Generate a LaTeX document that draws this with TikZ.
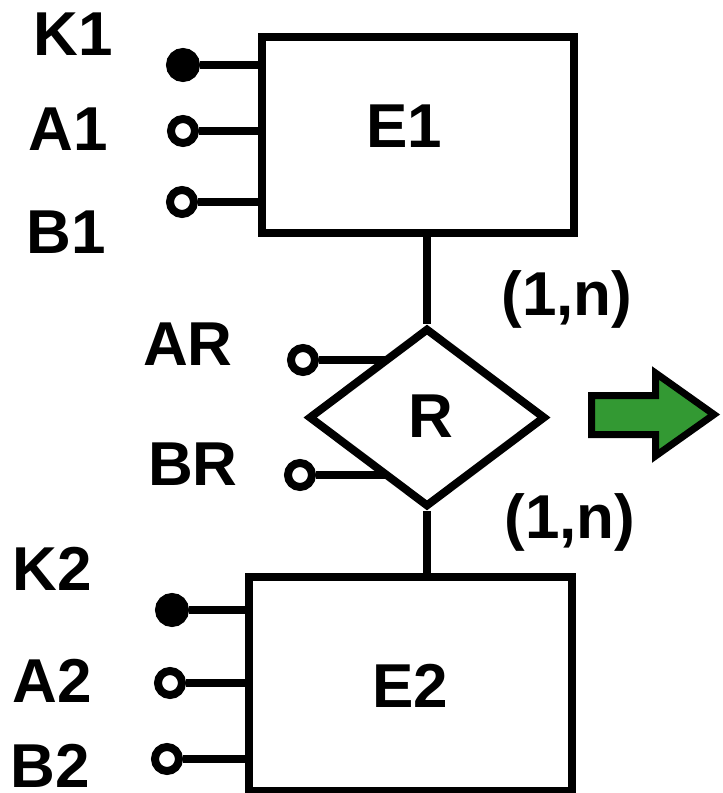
\documentclass[tikz,border=0pt]{standalone}
\usepackage{fontspec}
\setmainfont{Liberation Sans}
\usetikzlibrary{shapes.geometric,backgrounds}
\definecolor{verdeflecha}{RGB}{51,153,51}

\begin{document}
\begin{tikzpicture}[
  x=1pt, y=-1pt,
  line width=8pt,
  every node/.style={font=\fontsize{62}{70}\selectfont\bfseries},
  entidad/.style={draw, rectangle, inner sep=0pt},
  relacion/.style={draw, diamond, fill=white, inner sep=0pt,
    minimum width=237pt, minimum height=179pt},
  atributo/.style={draw, circle, fill=white, inner sep=0pt, minimum size=24pt},
  clave/.style={atributo, fill=black, minimum size=26pt},
  etiqueta/.style={anchor=base, inner sep=0pt}
]

  \useasboundingbox (0,0) rectangle (723,793);

  % Entidades
  \node[entidad, minimum width=312pt, minimum height=196pt]
    (E1) at (418,135) {};
  \node[entidad, minimum width=323pt, minimum height=214pt]
    (E2) at (410.5,684) {};

  \node[etiqueta] (tE1) at (404.5,147) {E1};
  \node[etiqueta] (tE2) at (410.5,707) {E2};

  % Relación
  \node[relacion] (R) at (427,417.5) {};
  \node[etiqueta] (tR) at (431,437) {R};

  % Atributos
  \node[clave]    (K1c) at (183,65) {};
  \node[atributo] (A1c) at (183,131) {};
  \node[atributo] (B1c) at (182,202) {};
  \node[atributo] (ARc) at (303,360) {};
  \node[atributo] (BRc) at (300,475) {};
  \node[clave]    (K2c) at (172,610) {};
  \node[atributo] (A2c) at (170,683) {};
  \node[atributo] (B2c) at (167,759) {};

  % Nombres de los atributos
  \node[etiqueta] (K1) at (73,55) {K1};
  \node[etiqueta] (A1) at (68,150) {A1};
  \node[etiqueta] (B1) at (66,253) {B1};
  \node[etiqueta] (AR) at (188,365) {AR};
  \node[etiqueta] (BR) at (193,485) {BR};
  \node[etiqueta] (K2) at (52,590) {K2};
  \node[etiqueta] (A2) at (52,702) {A2};
  \node[etiqueta] (B2) at (50,787) {B2};

  % Cardinalidades
  \node[etiqueta] (c1) at (567,315) {(1,n)};
  \node[etiqueta] (c2) at (570,538) {(1,n)};

  % Conexiones
  \begin{scope}[on background layer={line width=8pt}]
    \draw (K1c) -- (K1c -| E1.west);
    \draw (A1c) -- (A1c -| E1.west);
    \draw (B1c) -- (B1c -| E1.west);
    \draw (K2c) -- (K2c -| E2.west);
    \draw (A2c) -- (A2c -| E2.west);
    \draw (B2c) -- (B2c -| E2.west);
    \draw (ARc) -- (ARc -| R.center);
    \draw (BRc) -- (BRc -| R.center);
    \draw (E1.south -| R.north) -- (R.north);
    \draw (R.south) -- (R.south |- E2.north);
  \end{scope}

  % Flecha verde
  \draw[
    line width=7pt,
    line join=miter,
    fill=verdeflecha
  ]
    (591.5,395.5) -- (655.5,395.5) -- (655.5,373)
    -- (714,414.5) -- (655.5,456) -- (655.5,434.5)
    -- (591.5,434.5) -- cycle;

\end{tikzpicture}
\end{document}
